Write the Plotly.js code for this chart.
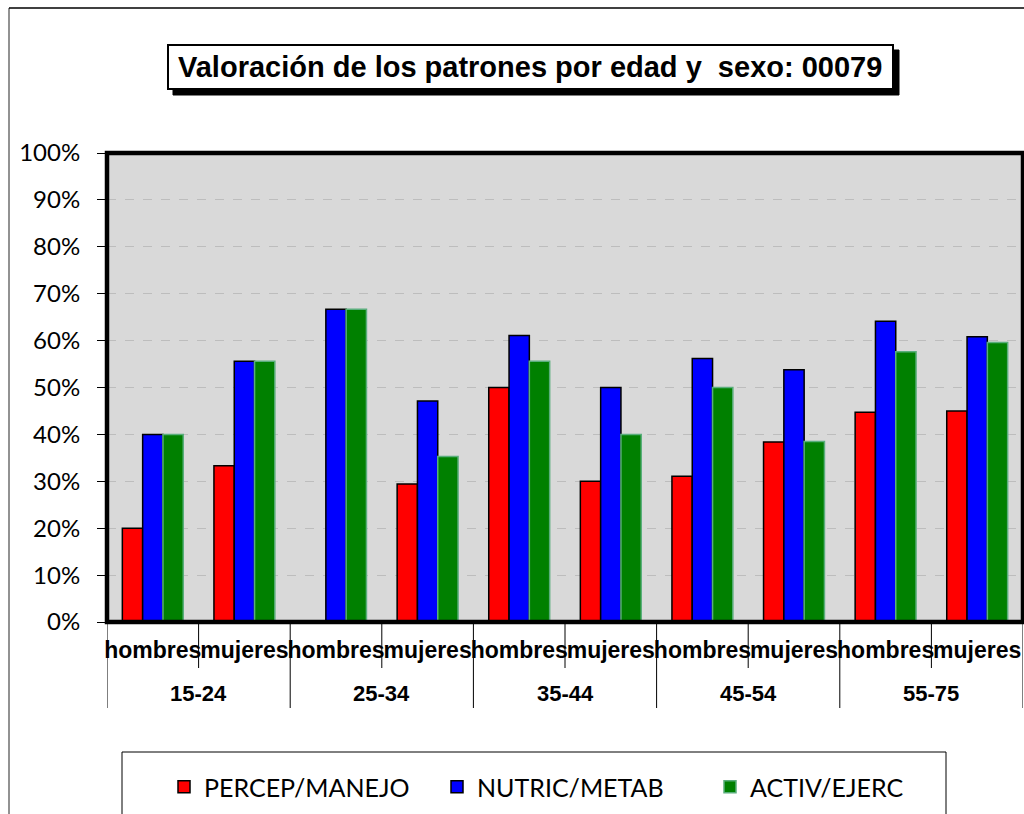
<!DOCTYPE html>
<html>
<head>
<meta charset="utf-8">
<script src="https://cdn.plot.ly/plotly-3.0.1.min.js"></script>
<style>html,body{margin:0;padding:0;background:#fff;}#chart{width:1024px;height:814px;}</style>
</head>
<body>
<div id="chart"></div>
<script>
// ---- data ----
const ageGroups = ['15-24', '25-34', '35-44', '45-54', '55-75'];
const sexes = ['hombres', 'mujeres'];
const seriesNames = ['PERCEP/MANEJO', 'NUTRIC/METAB', 'ACTIV/EJERC'];
const percepManejo = [20.0, 33.3, 0.0, 29.4, 50.0, 30.0, 31.1, 38.4, 44.7, 45.0];
const nutricMetab  = [40.0, 55.6, 66.7, 47.1, 61.1, 50.0, 56.2, 53.8, 64.1, 60.8];
const activEjerc   = [40.0, 55.6, 66.7, 35.3, 55.6, 40.0, 50.0, 38.5, 57.6, 59.6];
const yTicks = [0, 10, 20, 30, 40, 50, 60, 70, 80, 90, 100];
const chartTitle = 'Valoración de los patrones por edad y\u00a0 sexo: 00079';

// ---- layout helpers ----
const W = 1024, H = 814;
const M = {l: 107, r: 1, t: 153, b: 192};
const PW = W - M.l - M.r, PH = H - M.t - M.b;
const px2x = px => (px - M.l) / PW;
const py2y = py => (H - M.b - py) / PH;

// category positions (index along the x axis) and their labels
const catLabels = [];
ageGroups.forEach(() => sexes.forEach(s => catLabels.push(s)));
const catIdx = catLabels.map((_, i) => i);
const nCat = catLabels.length;
const perGroup = sexes.length;

const colors = ['#FF0000', '#0000FF', '#008000'];
const lineColors = ['#000000', '#000000', '#5AAE7C'];
const values = [percepManejo, nutricMetab, activEjerc];

const traces = values.map((v, i) => ({
  type: 'bar',
  name: seriesNames[i],
  x: catIdx,
  y: v,
  marker: {color: colors[i], line: {color: lineColors[i], width: 1.5}},
  hoverinfo: 'skip'
}));

const shapes = [];
// outer chart frame
shapes.push({type: 'line', xref: 'paper', yref: 'paper', x0: px2x(9), x1: px2x(9), y0: py2y(8), y1: py2y(830), line: {color: '#6e6e6e', width: 1.5}});
shapes.push({type: 'line', xref: 'paper', yref: 'paper', x0: px2x(9), x1: px2x(1030), y0: py2y(8), y1: py2y(8), line: {color: '#000', width: 1.5}});
// title shadow + box
shapes.push({type: 'rect', xref: 'paper', yref: 'paper', x0: px2x(173), x1: px2x(899), y0: py2y(50), y1: py2y(95), fillcolor: '#000', line: {color: '#000', width: 1}});
shapes.push({type: 'rect', xref: 'paper', yref: 'paper', x0: px2x(168), x1: px2x(893), y0: py2y(45), y1: py2y(89), fillcolor: '#fff', line: {color: '#000', width: 2}});
// legend box
shapes.push({type: 'rect', xref: 'paper', yref: 'paper', x0: px2x(122), x1: px2x(946), y0: py2y(752), y1: py2y(830), fillcolor: '#fff', line: {color: '#000', width: 1}});
// category boundary lines: short within groups, long between groups
for (let k = 0; k <= nCat; k++) {
  const isGroup = (k % perGroup === 0);
  shapes.push({type: 'line', xref: 'x', yref: 'paper', x0: k - 0.5, x1: k - 0.5, y0: 0, y1: py2y(isGroup ? 708 : 668), line: {color: '#000', width: 1}});
}
// plot border
shapes.push({type: 'rect', xref: 'paper', yref: 'paper', x0: 0, x1: 1, y0: 0, y1: 1, fillcolor: 'rgba(0,0,0,0)', line: {color: '#000', width: 4.5}, layer: 'above'});

const annotations = [{
  xref: 'paper', yref: 'paper',
  x: px2x(530), y: py2y(67),
  xanchor: 'center', yanchor: 'middle',
  text: '<b>' + chartTitle + '</b>',
  showarrow: false,
  font: {family: '"Liberation Sans", Arial, sans-serif', size: 29, color: '#000'}
}];
ageGroups.forEach((g, gi) => {
  annotations.push({
    xref: 'x', yref: 'paper',
    x: gi * perGroup + (perGroup - 1) / 2, y: py2y(693),
    xanchor: 'center', yanchor: 'middle',
    text: '<b>' + g + '</b>',
    showarrow: false,
    font: {family: '"Liberation Sans", Arial, sans-serif', size: 22, color: '#000'}
  });
});

const layout = {
  width: W, height: H,
  margin: M,
  paper_bgcolor: '#ffffff',
  plot_bgcolor: '#D9D9D9',
  barmode: 'group',
  bargap: 0.335,
  bargroupgap: 0,
  showlegend: true,
  legend: {
    orientation: 'h',
    x: px2x(164), xanchor: 'left',
    y: py2y(764), yanchor: 'top',
    font: {family: 'Lato, sans-serif', size: 25, color: '#000'},
    bgcolor: 'rgba(0,0,0,0)',
    borderwidth: 0,
    entrywidthmode: 'pixels',
    entrywidth: 228
  },
  xaxis: {
    type: 'linear',
    range: [-0.5, nCat - 0.5],
    tickvals: catIdx,
    ticktext: catLabels.map(s => '<b>' + s + '</b>'),
    showgrid: false,
    zeroline: false,
    showline: false,
    ticks: '',
    tickangle: 0,
    tickfont: {family: '"Liberation Sans", Arial, sans-serif', size: 23, color: '#000'},
    ticklabelstandoff: 12
  },
  yaxis: {
    range: [0, 100],
    tickvals: yTicks,
    ticktext: yTicks.map(t => t + '%'),
    ticks: 'outside',
    ticklen: 9,
    tickcolor: '#000',
    tickwidth: 1,
    showgrid: true,
    gridcolor: '#BDBDBD',
    griddash: 'dash',
    gridwidth: 1,
    zeroline: false,
    showline: false,
    tickfont: {family: 'Lato, sans-serif', size: 24, color: '#000'},
    ticklabelstandoff: 12
  },
  shapes: shapes,
  annotations: annotations
};

Plotly.newPlot('chart', traces, layout, {staticPlot: true, displayModeBar: false});
</script>
</body>
</html>
